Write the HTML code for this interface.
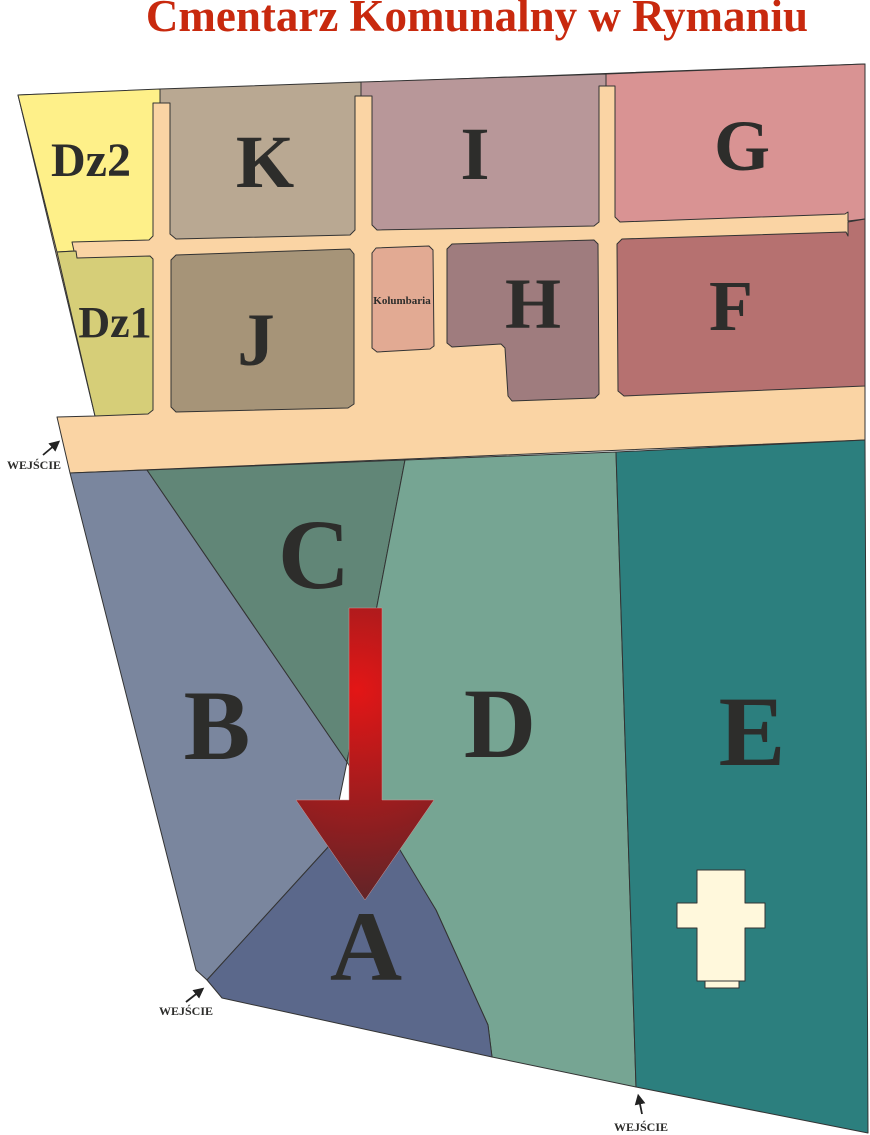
<!DOCTYPE html>
<html><head><meta charset="utf-8"><style>html,body{margin:0;padding:0;background:#fff}svg{display:block}</style></head><body>
<svg width="870" height="1135" viewBox="0 0 870 1135" xmlns="http://www.w3.org/2000/svg">
<defs>
<radialGradient id="ag" cx="357" cy="690" r="230" gradientUnits="userSpaceOnUse">
<stop offset="0" stop-color="#E31616"/><stop offset="0.6" stop-color="#8E1E20"/><stop offset="1" stop-color="#55262A"/>
</radialGradient>
<marker id="m" markerWidth="6" markerHeight="6" refX="3" refY="3" orient="auto"><path d="M0,0 L6,3 L0,6 Z" fill="#222"/></marker>
</defs>
<text x="477" y="31" text-anchor="middle" font-family="Liberation Serif" font-weight="bold" font-size="45" fill="#C8290E">Cmentarz Komunalny w Rymaniu</text>
<g stroke="#333" stroke-width="1" stroke-linejoin="round">
<polygon points="18,95 865,64 865,440 70,473 57,417 95,416" fill="#FAD4A4"/>
<polygon points="18,95 160,89 160,103 153,103 153,236 149,240 72,242 74,251 57,252" fill="#FEF089"/>
<polygon points="57,252 76,251 77,258 150,256 153,259 153,410 148,414 95,416" fill="#D6CE78"/>
<polygon points="160,89 361,82 361,96 355,96 355,230 350,235 176,239 170,234 170,103 160,103" fill="#B9A892"/>
<polygon points="361,82 606,74 606,86 599,86 599,222 594,226 377,230 372,225 372,96 361,96" fill="#B89799"/>
<polygon points="606,74 865,64 865,219 848,221 848,212 845,214 620,222 615,217 615,86 606,86" fill="#D99393"/>
<polygon points="622,239 846,232 848,236 848,222 865,219 865,386 624,396 618,391 617,244" fill="#B67170"/>
<polygon points="452,244 594,240 598,244 599,394 595,398 512,401 508,396 505,348 501,344 452,347 447,343 447,249" fill="#9F7C7E"/>
<polygon points="176,255 350,249 354,254 354,404 348,408 176,412 171,407 171,260" fill="#A69478"/>
<polygon points="376,248 429,246 433,250 434,346 430,349 377,352 372,348 372,253" fill="#E2AA93"/>
<polygon points="70,473 147,470 347,762 330,845 207,980 196,970" fill="#7A869E"/>
<polygon points="147,470 405,460 347,762" fill="#618677"/>
<polygon points="405,460 616,452 636,1087 492,1057 488,1025 436,910 400,852 347,762" fill="#76A593"/>
<polygon points="207,980 330,845 400,850 436,910 488,1025 492,1057 222,998" fill="#5B688B"/>
<polygon points="616,452 865,440 868,1133 636,1087" fill="#2C7F7E"/>
<path d="M697,870 L745,870 L745,903 L765,903 L765,928 L745,928 L745,981 L697,981 L697,928 L677,928 L677,903 L697,903 Z" fill="#FFF8DC"/>
<rect x="705" y="981" width="34" height="7" fill="#FFF8DC"/>
</g>
<path d="M349,608 L382,608 L382,800 L434,800 L365,900 L296,800 L349,800 Z" fill="url(#ag)" stroke="#c99" stroke-width="0.5"/>
<g font-family="Liberation Serif" font-weight="bold" fill="#2D2D2B" text-anchor="middle">
<text x="91" y="176" font-size="48">Dz2</text>
<text x="265" y="187" font-size="75">K</text>
<text x="475" y="179" font-size="75">I</text>
<text x="742" y="170" font-size="72">G</text>
<text x="115" y="337" font-size="44">Dz1</text>
<text x="256" y="365" font-size="75">J</text>
<text x="402" y="304" font-size="11">Kolumbaria</text>
<text x="533" y="328" font-size="72">H</text>
<text x="731" y="330" font-size="72">F</text>
<text x="314" y="588" font-size="100">C</text>
<text x="217" y="759" font-size="100">B</text>
<text x="500" y="757" font-size="100">D</text>
<text x="752" y="765" font-size="100">E</text>
<text x="366" y="980" font-size="100">A</text>
<text x="34" y="469" font-size="12">WEJŚCIE</text>
<text x="186" y="1015" font-size="12">WEJŚCIE</text>
<text x="641" y="1131" font-size="12">WEJŚCIE</text>
</g>
<g stroke="#222" stroke-width="1.8" fill="none">
<line x1="43" y1="455" x2="56" y2="444" marker-end="url(#m)"/>
<line x1="186" y1="1002" x2="200" y2="991" marker-end="url(#m)"/>
<line x1="642" y1="1114" x2="639" y2="1099" marker-end="url(#m)"/>
</g>
</svg>
</body></html>
